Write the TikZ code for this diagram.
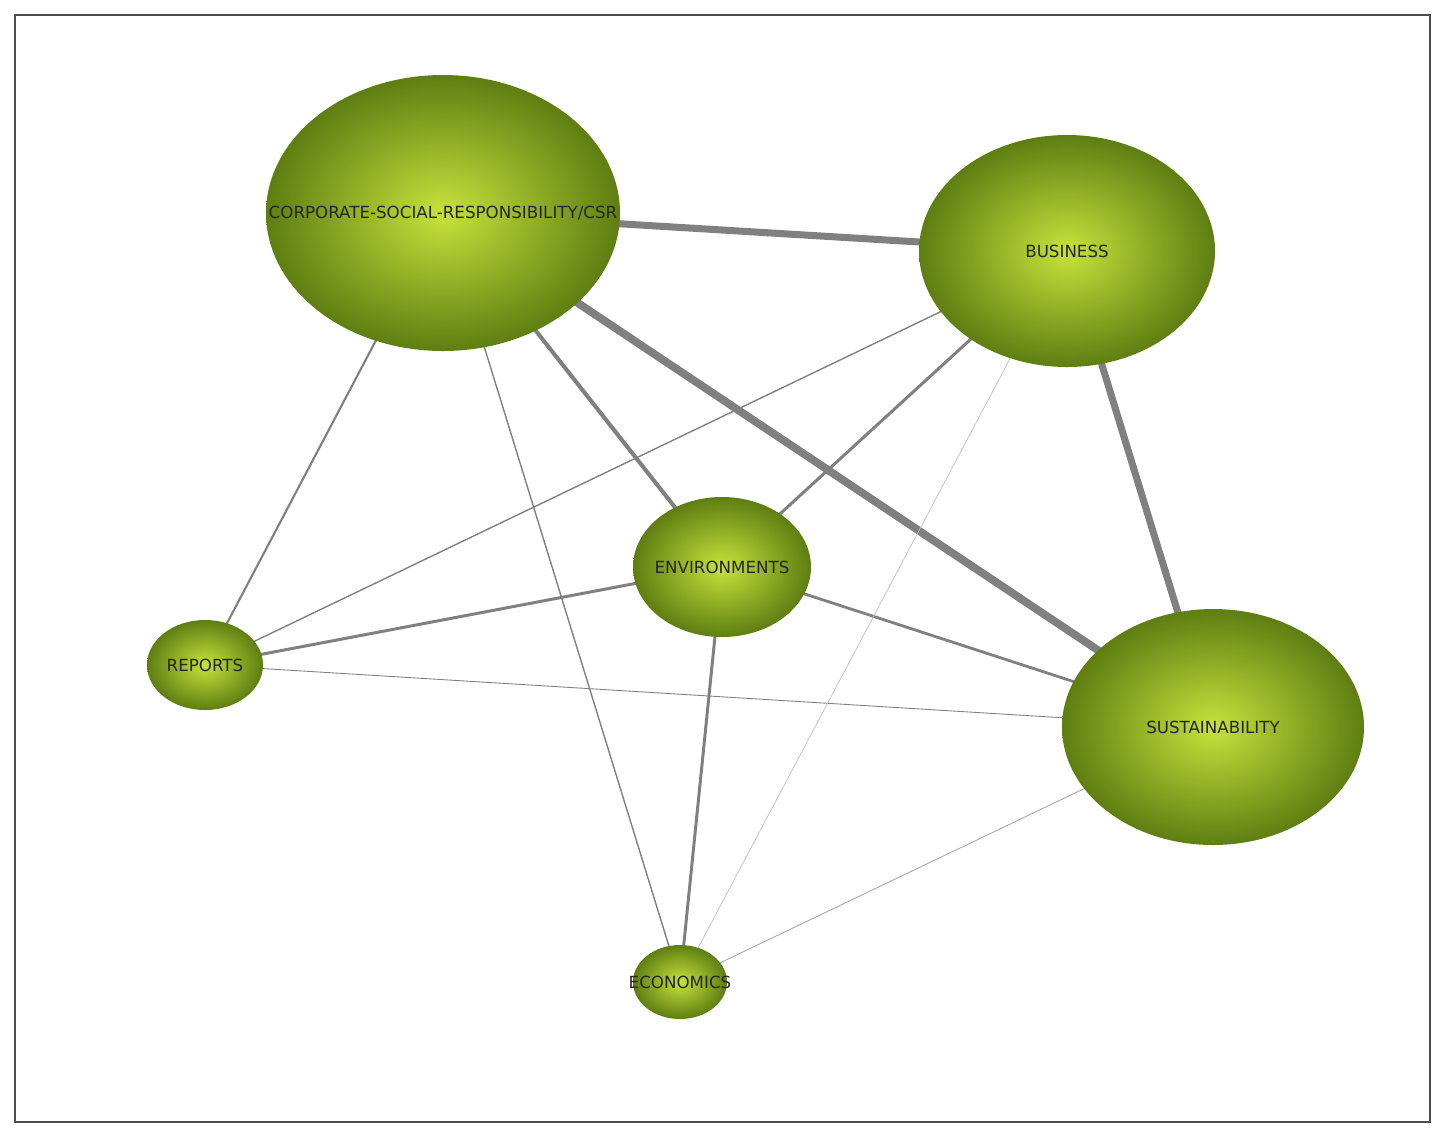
\documentclass[tikz,border=0pt]{standalone}
\usepackage{fontspec}
\setmainfont{DejaVu Sans}
\usetikzlibrary{shapes.geometric,backgrounds}
\definecolor{ballin}{HTML}{C8E23C}
\definecolor{ballout}{HTML}{5E7E12}
\definecolor{edge}{HTML}{808080}
\begin{document}
\begin{tikzpicture}[x=0.02cm,y=-0.02cm,
 ball/.style={ellipse,inner sep=0pt,shading=radial,inner color=ballin,outer color=ballout},
 lab/.style={font=\fontsize{9.5}{11}\selectfont,text=black!85},
 e/.style={draw=edge}]
\useasboundingbox (0,0) rectangle (1446,1133);
\draw[black!70,line width=0.8pt] (15,15) rectangle (1430,1122);
\node[ball,minimum width=354*0.02cm,minimum height=276*0.02cm,label={[lab]center:CORPORATE-SOCIAL-RESPONSIBILITY/CSR}] (csr) at (443,213) {};
\node[ball,minimum width=296*0.02cm,minimum height=232*0.02cm,label={[lab]center:BUSINESS}] (bus) at (1067,251) {};
\node[ball,minimum width=178*0.02cm,minimum height=140*0.02cm,label={[lab]center:ENVIRONMENTS}] (env) at (722,567) {};
\node[ball,minimum width=116*0.02cm,minimum height=90*0.02cm,label={[lab]center:REPORTS}] (rep) at (205,665) {};
\node[ball,minimum width=302*0.02cm,minimum height=236*0.02cm,label={[lab]center:SUSTAINABILITY}] (sus) at (1213,727) {};
\node[ball,minimum width=94*0.02cm,minimum height=74*0.02cm,label={[lab]center:ECONOMICS}] (eco) at (680,982) {};
\begin{scope}[on background layer]
\draw[e,line width=4pt] (csr.center) -- (bus.center);
\draw[e,line width=4.5pt] (csr.center) -- (sus.center);
\draw[e,line width=4pt] (bus.center) -- (sus.center);
\draw[e,line width=2.3pt] (csr.center) -- (env.center);
\draw[e,line width=1.7pt] (env.center) -- (bus.center);
\draw[e,line width=1.7pt] (env.center) -- (rep.center);
\draw[e,line width=1.6pt] (env.center) -- (sus.center);
\draw[e,line width=1.7pt] (env.center) -- (eco.center);
\draw[e,line width=1.2pt] (csr.center) -- (rep.center);
\draw[e,line width=0.8pt] (csr.center) -- (eco.center);
\draw[e,line width=0.8pt] (bus.center) -- (rep.center);
\draw[e,line width=0.5pt] (rep.center) -- (sus.center);
\draw[draw=black!25,line width=0.4pt] (bus.center) -- (eco.center);
\draw[draw=black!35,line width=0.5pt] (sus.center) -- (eco.center);
\end{scope}
\end{tikzpicture}
\end{document}
